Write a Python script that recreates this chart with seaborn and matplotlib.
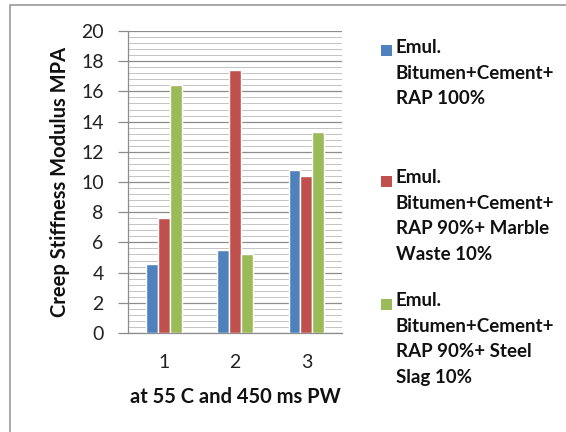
import matplotlib
matplotlib.use("Agg")
import matplotlib.pyplot as plt
import seaborn as sns
import pandas as pd
from matplotlib.ticker import MultipleLocator
from matplotlib.patches import Patch, Rectangle
from matplotlib.legend_handler import HandlerPatch

categories = ["1", "2", "3"]
series_names = [
    "Emul.\nBitumen+Cement+\nRAP 100%",
    "Emul.\nBitumen+Cement+\nRAP 90%+ Marble\nWaste 10%",
    "Emul.\nBitumen+Cement+\nRAP 90%+ Steel\nSlag 10%",
]
rap100 = [4.6, 5.5, 10.8]
marble = [7.6, 17.4, 10.4]
steel = [16.4, 5.2, 13.3]
colors = ["#4F81BD", "#C0504D", "#9BBB59"]

rows = []
for name, vals in zip(series_names, [rap100, marble, steel]):
    for c, v in zip(categories, vals):
        rows.append({"cat": c, "series": name, "value": v})
df = pd.DataFrame(rows)

sns.set_theme(style="white")
plt.rcParams["font.family"] = ["Lato", "DejaVu Sans"]

fig = plt.figure(figsize=(5.66, 4.32), dpi=100)
ax = fig.add_axes([128 / 566, 1 - 333 / 432, 214 / 566, (333 - 31) / 432])

sns.barplot(data=df, x="cat", y="value", hue="series", palette=colors,
            width=0.5, ax=ax, legend=False, saturation=1, zorder=3)

ax.set_xlim(-0.5, 2.5)
ax.set_ylim(0, 20)
ax.yaxis.set_major_locator(MultipleLocator(2))
ax.yaxis.set_minor_locator(MultipleLocator(0.4))
ax.grid(True, which="major", axis="y", color="#8C8C8C", linewidth=0.9, zorder=0)
ax.grid(True, which="minor", axis="y", color="#C4C4C4", linewidth=0.7, zorder=0)
ax.set_axisbelow(True)
for s in ["top", "right"]:
    ax.spines[s].set_visible(False)
for s in ["left", "bottom"]:
    ax.spines[s].set_color("#8C8C8C")
    ax.spines[s].set_linewidth(0.9)
ax.tick_params(axis="y", which="major", direction="out", length=7.5, width=0.9,
               color="#8C8C8C", left=True, labelsize=14, pad=10, labelcolor="#222222")
ax.tick_params(axis="y", which="minor", left=False)
ax.tick_params(axis="x", length=0, labelsize=14, pad=15, labelcolor="#222222")
ax.set_xlabel("at 55 C and 450 ms PW", fontsize=14.5, fontweight="bold",
              color="#111111")
ax.xaxis.set_label_coords(0.5, (333 - 397) / 302)
ax.xaxis.label.set_verticalalignment("center")
ax.set_ylabel("Creep Stiffness Modulus MPA", fontsize=14.5, fontweight="bold",
              color="#111111")
ax.yaxis.set_label_coords((60 - 128) / 214, 0.5)
ax.yaxis.label.set_verticalalignment("center")


def top_square_handler(nlines, lh_em=1.227, size_em=0.587):
    def patch_func(legend, orig_handle, xdescent, ydescent, width, height, fontsize):
        s = size_em * fontsize
        yc = -ydescent + height / 2 + (nlines - 1) / 2 * lh_em * fontsize
        return Rectangle((-xdescent, yc - s / 2), s, s)
    return HandlerPatch(patch_func=patch_func)


# legend entries placed like the original
tops = [39, 169, 292]
for name, col, top in zip(series_names, colors, tops):
    h = Patch(facecolor=col, edgecolor="none")
    leg = fig.legend(handles=[h], labels=[name],
                     loc="upper left", bbox_to_anchor=(381 / 566, 1 - top / 432),
                     frameon=False, handlelength=0.587, handleheight=0.587,
                     handletextpad=0.21, borderpad=0, borderaxespad=0,
                     prop={"weight": "bold", "size": 13.5},
                     handler_map={h: top_square_handler(name.count("\n") + 1)})
    for t in leg.get_texts():
        t.set_linespacing(1.62)
        t.set_color("#111111")

fig.patches.append(Rectangle((10 / 566, -0.05), 1.2, 1 - 5 / 432 + 0.05,
                             transform=fig.transFigure, fill=False,
                             edgecolor="#9A9A9A", linewidth=1.2))

fig.savefig("out.png", dpi=100, facecolor="white")
